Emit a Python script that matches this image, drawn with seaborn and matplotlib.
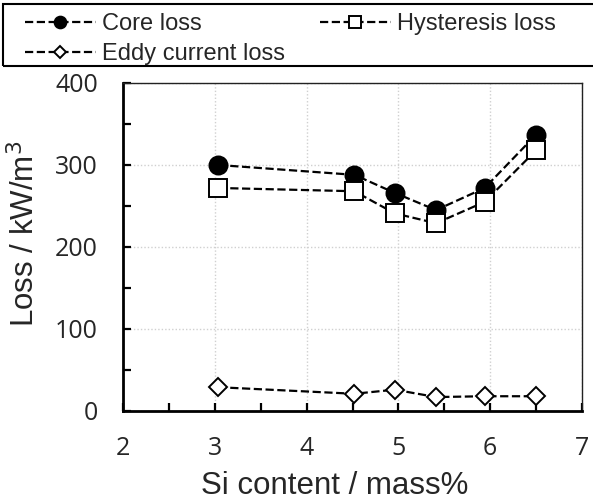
import matplotlib
matplotlib.use("Agg")
import matplotlib.pyplot as plt
from matplotlib.patches import Rectangle
from matplotlib.ticker import MultipleLocator
import seaborn as sns
import pandas as pd

# Si content (mass%) and measured losses (kW/m^3)
si_content = [3.04, 4.52, 4.96, 5.41, 5.94, 6.50]
core_loss = [300, 288, 266, 245, 272, 337]
hysteresis_loss = [272, 268, 241, 229, 255, 318]
eddy_loss = [29, 21, 26, 17, 18, 18]

x_ticks = [2, 3, 4, 5, 6, 7]
y_ticks = [0, 100, 200, 300, 400]

df = pd.DataFrame({
    "si": si_content * 3,
    "loss": core_loss + hysteresis_loss + eddy_loss,
    "kind": ["Core loss"] * 6 + ["Hysteresis loss"] * 6 + ["Eddy current loss"] * 6,
})

sns.set_style("white")
plt.rcParams["font.family"] = ["Liberation Sans", "DejaVu Sans"]

fig = plt.figure(figsize=(5.93, 5.04), dpi=100)
ax = fig.add_axes([123 / 593, 1 - 411 / 504, (582 - 123) / 593, (411 - 83) / 504])

line_kw = dict(color="black", linestyle="--", linewidth=1.6, dashes=(2.9, 1.7),
               markeredgecolor="black", markeredgewidth=1.4)
styles = {
    "Core loss": dict(marker="o", markersize=13, markerfacecolor="black"),
    "Hysteresis loss": dict(marker="s", markersize=13, markerfacecolor="white"),
    "Eddy current loss": dict(marker="D", markersize=8.8, markerfacecolor="white"),
}
handles = {}
for kind, st in styles.items():
    sub = df[df["kind"] == kind]
    sns.lineplot(data=sub, x="si", y="loss", ax=ax, label=kind, legend=False,
                 **line_kw, **st)
    handles[kind] = ax.lines[-1]

ax.set_xlim(2, 7)
ax.set_ylim(0, 400)
ax.set_xticks(x_ticks)
ax.set_yticks(y_ticks)
ax.xaxis.set_minor_locator(MultipleLocator(0.5))
ax.yaxis.set_minor_locator(MultipleLocator(50))
ax.grid(True, which="major", color="#d0d0d0", linestyle=(0, (1, 1.5)), linewidth=1.0)
ax.set_axisbelow(True)

for side in ("left", "bottom"):
    ax.spines[side].set_linewidth(2.0)
    ax.spines[side].set_color("black")
for side in ("top", "right"):
    ax.spines[side].set_linewidth(1.0)
    ax.spines[side].set_color("#222222")

ax.tick_params(axis="both", which="both", direction="in", length=6, width=1.6,
               color="black", top=False, right=False, left=True, bottom=True)
ax.tick_params(axis="x", which="major", pad=18)
ax.tick_params(axis="y", which="major", pad=18)
for lab in ax.get_xticklabels() + ax.get_yticklabels():
    lab.set_fontfamily(["Open Sans", "DejaVu Sans"])
    lab.set_fontsize(18)

ax.set_xlabel("Si content / mass%", fontsize=22.5, va="center", ha="center")
ax.set_ylabel("Loss / kW/m$^3$", fontsize=22.5, va="center", ha="center")
ax.xaxis.set_label_coords((335 - 123) / (582 - 123), -(486 - 411) / (411 - 83))
ax.yaxis.set_label_coords(-(123 - 25) / (582 - 123), (411 - 234) / (411 - 83))

order = ["Core loss", "Eddy current loss", "Hysteresis loss"]
fig.legend([handles[k] for k in order], order, ncol=2, loc="upper left",
           bbox_to_anchor=(6 / 593, 1 + 6 / 504), frameon=False, fontsize=17,
           handlelength=3.0, handletextpad=0.25, columnspacing=1.5,
           labelspacing=0.35, markerscale=0.65, borderpad=0.3)
fig.patches.append(Rectangle((3 / 593, 1 - 66 / 504), 1.0, 62 / 504,
                             transform=fig.transFigure, fill=False,
                             edgecolor="black", linewidth=1.5))

fig.savefig("out.png", dpi=100, facecolor="white")
